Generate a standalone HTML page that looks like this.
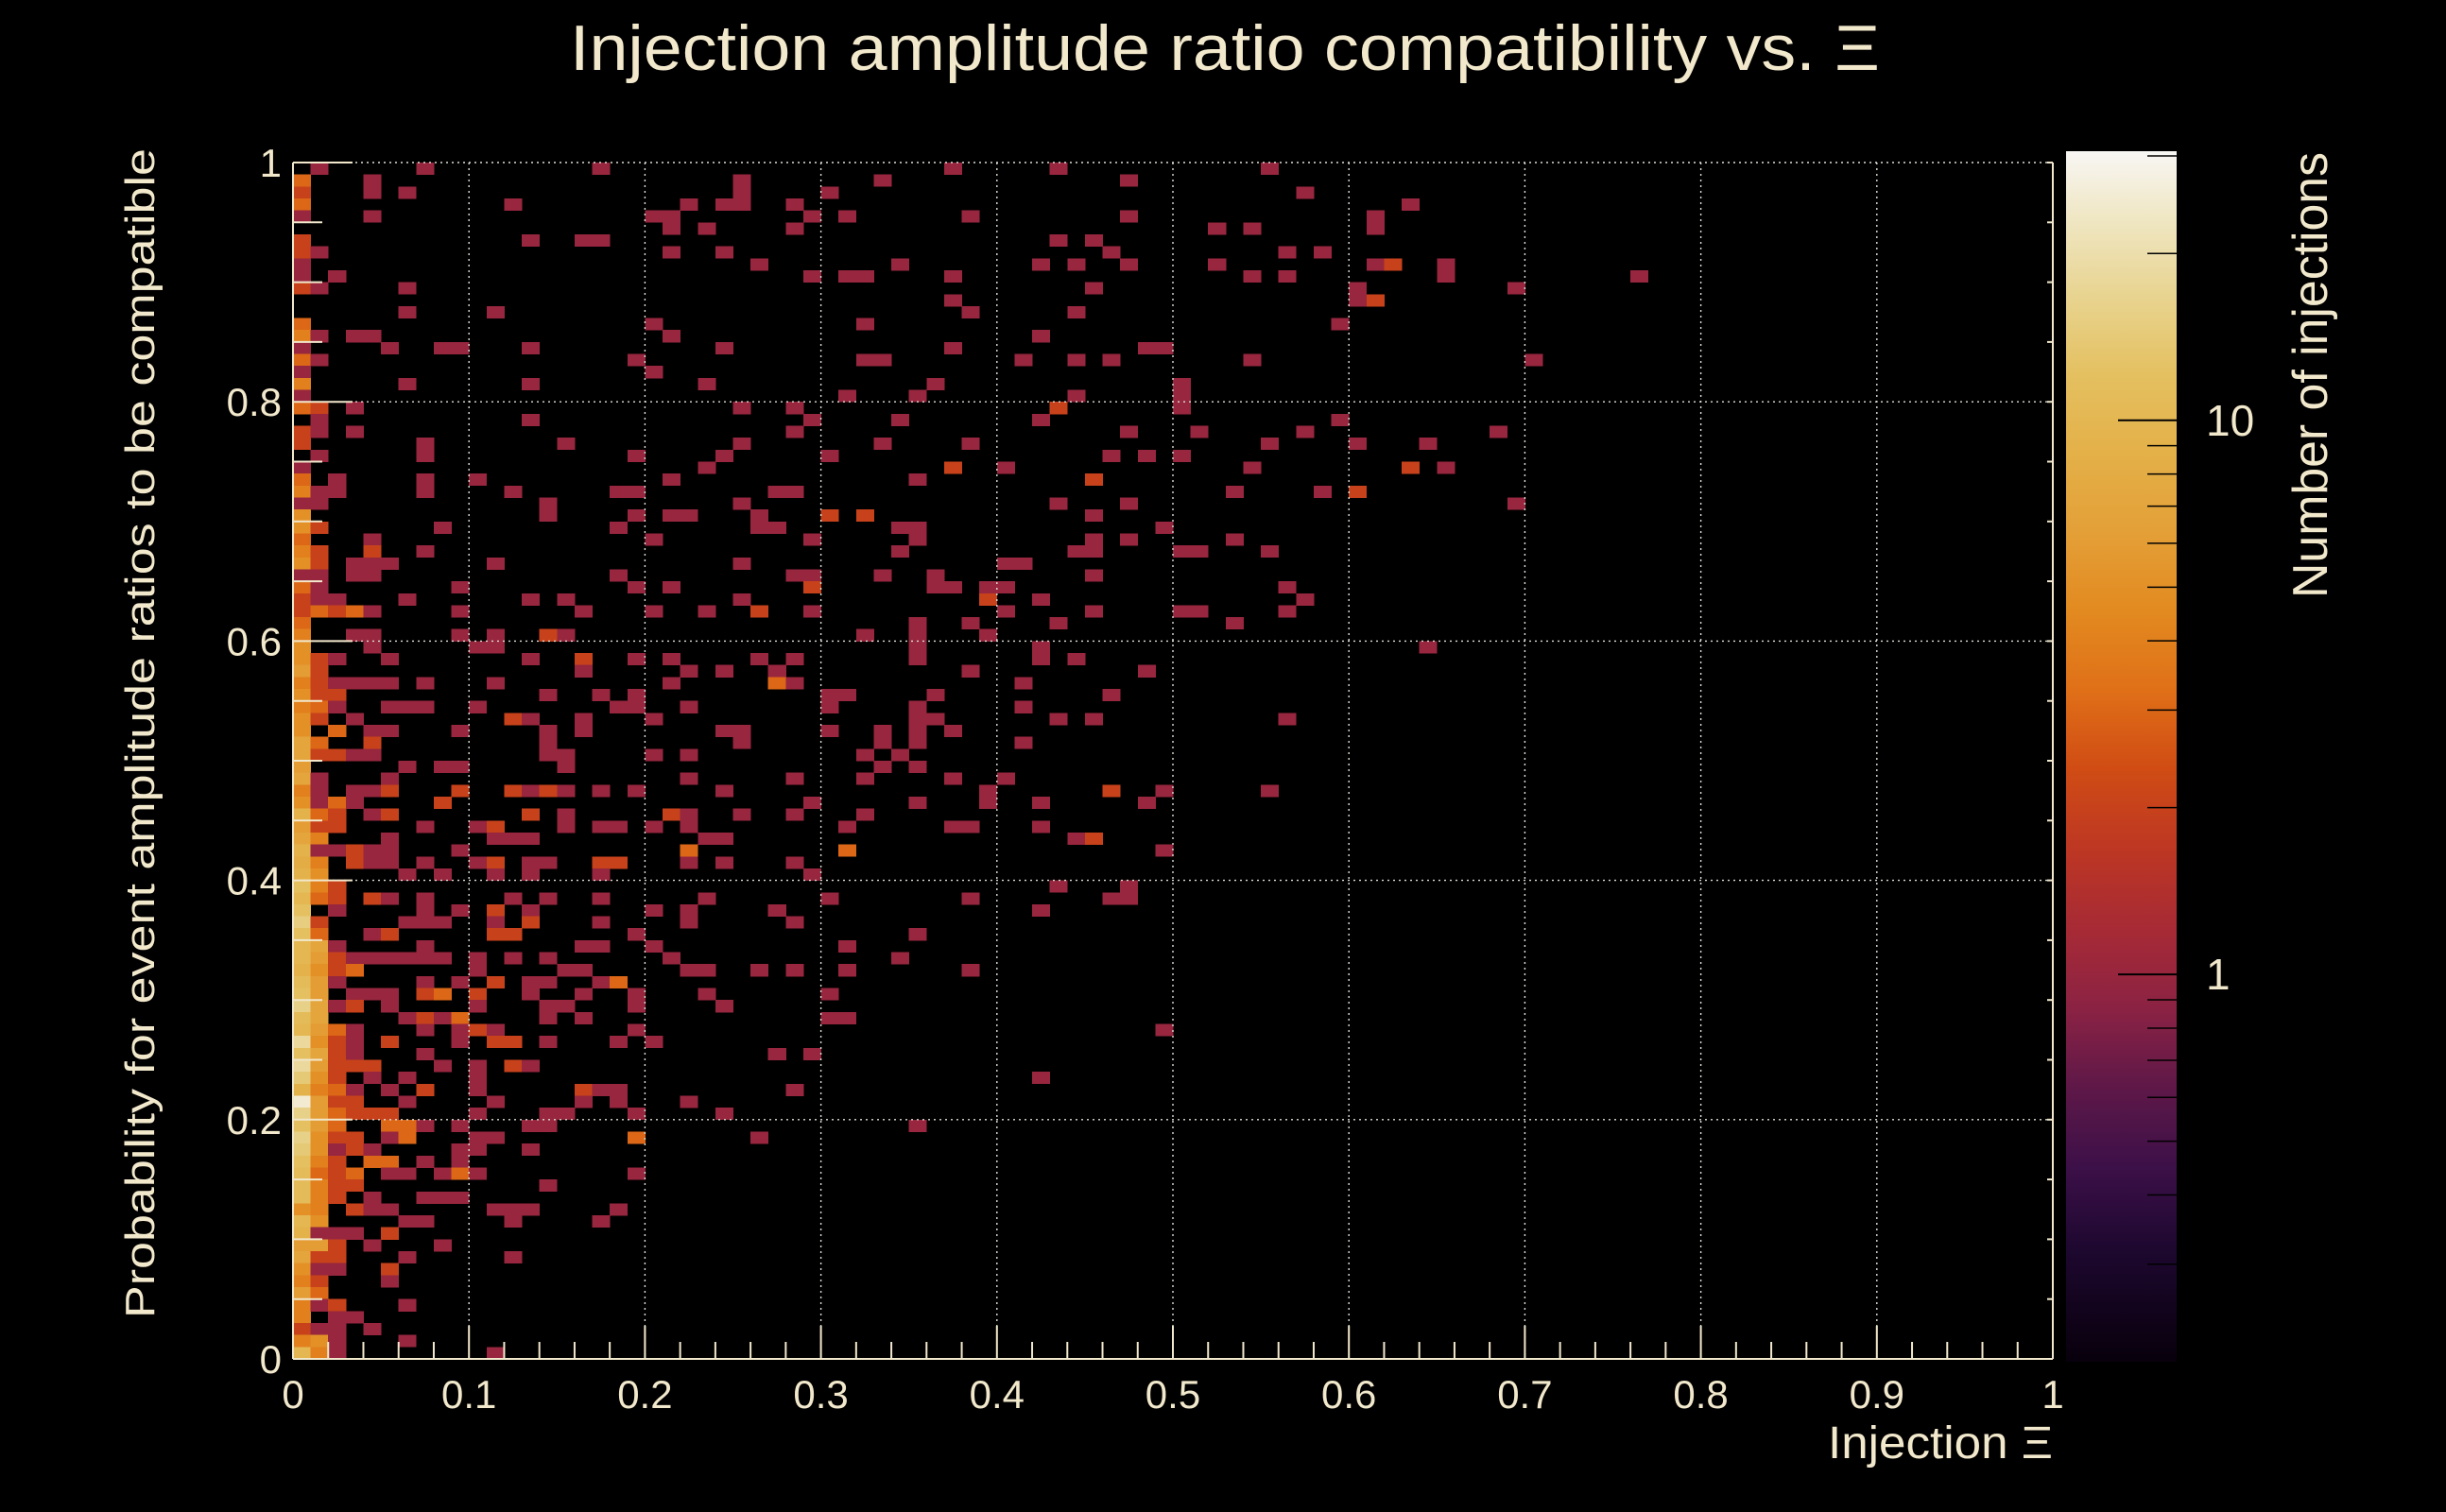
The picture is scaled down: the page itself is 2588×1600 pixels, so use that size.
<!DOCTYPE html>
<html><head><meta charset="utf-8"><style>
html,body{margin:0;padding:0;background:#000;}
svg{display:block;}
text{font-family:"Liberation Sans",sans-serif;fill:#f2e8cc;}
</style></head><body>
<svg id="chart" xmlns="http://www.w3.org/2000/svg" width="2588" height="1600" viewBox="0 0 2588 1600">
<rect x="0" y="0" width="2588" height="1600" fill="#000"/>
<text x="1296" y="74" font-size="68" text-anchor="middle" textLength="1386" lengthAdjust="spacingAndGlyphs">Injection amplitude ratio compatibility vs. Ξ</text>
<text transform="translate(163,776) rotate(-90)" font-size="44" text-anchor="middle" textLength="1238" lengthAdjust="spacingAndGlyphs">Probability for event amplitude ratios to be compatible</text>
<text x="2172" y="1543" font-size="48" text-anchor="end" textLength="238" lengthAdjust="spacingAndGlyphs">Injection Ξ</text>
<text transform="translate(2462,397) rotate(-90)" font-size="52" text-anchor="middle" textLength="472" lengthAdjust="spacingAndGlyphs">Number of injections</text>
<g id="cells"></g>
<g id="grid"></g>
<g id="axes"></g>
<g id="cbar"></g>
</svg>
<script>
// ---- data (100 x 100 bins; rows counted from the top, row 0 = y bin 0.99-1.00) ----
const col0Counts = [0,3,2,3,1,0,2,2,1,1,2,0,0,3,4,1,3,1,4,1,3,0,2,2,0,1,3,4,1,5,5,3,4,5,1,3,2,2,3,4,5,5,6,4,5,4,5,5,7,7,6,7,4,5,9,6,7,9,8,9,12,10,12,15,12,10,10,9,11,12,16,11,10,18,12,18,14,9,25,16,12,16,14,12,11,11,11,5,10,9,6,7,5,4,6,4,4,2,4,10];
const col1Counts = [1,0,0,0,0,0,0,1,0,0,1,0,0,0,1,0,1,0,0,0,2,1,1,0,1,0,0,1,1,0,2,0,2,2,1,1,1,3,0,0,0,2,2,2,2,3,2,0,3,2,0,1,1,1,3,2,4,1,4,5,4,3,0,2,3,7,6,5,6,6,7,7,6,5,7,6,5,4,6,6,6,5,5,4,3,4,4,4,5,1,6,2,1,2,3,1,0,1,5,4];
const col2Counts = [0,0,0,0,0,0,0,0,0,1,0,0,0,0,0,0,0,0,0,0,0,0,0,0,0,0,1,1,0,0,0,0,0,0,0,0,1,2,0,0,0,1,0,1,2,1,0,3,0,2,0,0,0,3,2,2,0,1,0,0,2,2,1,0,0,1,2,2,1,0,1,0,3,2,2,2,2,3,2,3,3,2,1,2,2,2,2,0,0,1,2,2,1,0,0,2,1,1,1,1];
const scatterRows = [0,1,2,3,4,5,6,7,8,9,10,11,12,13,14,15,16,17,18,19,20,21,22,23,24,25,26,27,28,29,30,31,32,33,34,35,36,37,38,39,40,41,42,43,44,45,46,47,48,49,50,51,52,53,54,55,56,57,58,59,60,61,62,63,64,65,66,67,68,69,70,71,72,73,74,75,76,77,78,79,80,81,82,83,84,85,86,87,88,89,90,91,92,93,95,96,97,98,99];
const scatterCols = [
[7,17,37,43,55],[4,25,33,47],[4,6,25,30,57],[12,22,24,25,28,63],[4,20,21,29,31,38,47,61],
[21,23,28,52,54,61],[13,16,17,43,45],[21,24,46,56,58],[26,34,42,44,47,52,61,62,65],[29,31,32,37,54,56,65,76],
[6,45,60,69],[37,60,61],[6,11,38,44],[20,32,59],[3,4,21,42],
[5,8,9,13,24,37,48,49],[19,32,33,41,44,46,54,70],[20],[6,13,23,36,50],[31,35,44,50],
[3,25,28,43,50],[13,29,34,42,59],[3,28,47,51,57,68],[7,15,25,33,38,55,60,64],[7,19,24,30,46,48,50],
[23,37,40,54,63,65],[7,10,21,35,45],[7,12,18,19,27,28,53,58,60],[14,25,43,47,69],[14,19,21,22,26,30,32,45],
[8,18,26,27,34,35,49],[4,20,29,35,45,47,53],[4,7,34,44,45,50,51,55],[3,4,5,11,25,40,41],[3,4,18,28,29,33,36,45],
[9,19,21,29,36,37,39,40,56],[6,13,15,25,39,42,57],[3,4,9,16,20,23,26,29,40,45,50,51,56],[35,38,43,53],[3,4,9,11,14,15,32,35,39],
[4,10,11,35,42,64],[5,13,16,19,21,26,28,35,42,44],[16,22,24,27,38,48],[3,4,5,7,11,21,27,28,41],[14,17,19,30,31,36,46],
[5,6,7,10,18,19,22,30,35,41],[3,12,13,16,20,35,36,43,45,56],[4,5,9,14,16,24,25,30,33,35,37],[4,14,25,33,35,41],[3,4,14,15,20,22,32,34],
[6,8,9,15,33,35],[5,22,28,32,37,40],[3,4,5,9,12,13,14,15,17,19,24,39,46,49,55],[3,8,29,35,39,42,48],[4,5,13,15,21,22,25,28,32],
[7,10,11,15,17,18,20,22,31,37,38,42],[5,11,12,13,23,24,44,45],[3,4,5,9,22,31,49],[3,4,5,7,10,11,13,14,17,18,22,24,28],[6,8,11,13,17,29],
[43,47],[4,5,7,12,14,17,23,30,38,46,47],[7,9,11,13,20,22,27,42],[6,7,8,11,13,17,22,28],[4,5,11,12,19,35],
[7,16,17,20,31],[3,4,5,6,7,8,10,12,14,21,34],[3,10,15,16,22,23,26,28,31,38],[7,9,11,13,14,17,18],[3,4,5,7,8,10,13,16,19,23,30],
[3,5,10,14,15,19,24],[6,7,8,9,14,16,30,31],[3,7,9,10,11,19,49],[3,5,9,11,12,14,18,20],[3,7,27,29],
[3,4,8,10,12,13],[4,6,10,42],[3,5,7,10,16,17,18,28],[3,6,11,16,18,22],[3,4,5,10,14,15,19,24],
[5,6,7,9,13,14,35],[3,5,6,10,11,19,26],[3,4,9,10,13],[4,5,7,9],[3,5,6,8,9,10,19],
[3,14],[4,7,8,9],[3,4,5,11,12,13,18],[6,7,12,17],[3,5],
[4,8],[6,12],[5],[5],[6],[3],[4],[6],[11]];
const scatterCounts = [
[1,1,1,1,1],[1,1,1,1],[1,1,1,1,1],[1,1,1,1,1,1],[1,1,1,1,1,1,1,1],
[1,1,1,1,1,1],[1,1,1,1,1],[1,1,1,1,1],[1,1,1,1,1,1,1,2,1],[1,1,1,1,1,1,1,1],
[1,1,1,1],[1,1,2],[1,1,1,1],[1,1,1],[1,1,1,1],
[1,1,1,1,1,1,1,1],[1,1,1,1,1,1,1,1],[1],[1,1,1,1,1],[1,1,1,1],
[1,1,1,2,1],[1,1,1,1,1],[1,1,1,1,1,1],[1,1,1,1,1,1,1,1],[1,1,1,1,1,1,1],
[1,2,1,1,2,1],[1,1,1,1,2],[1,1,1,1,1,1,1,1,2],[1,1,1,1,1],[1,1,1,1,1,2,2,1],
[1,1,1,1,1,1,1],[1,1,1,1,1,1,1],[2,1,1,1,1,1,1,1],[1,1,1,1,1,1,1],[1,1,1,1,1,1,1,1],
[1,1,1,2,1,1,1,1,1],[1,1,1,1,2,1,1],[3,1,1,1,1,1,2,1,1,1,1,1,1],[1,1,1,1],[1,1,1,1,2,1,1,1,1],
[1,1,1,1,1,1],[1,1,2,1,1,1,1,1,1,1],[1,1,1,1,1,1],[1,1,1,1,1,1,3,1,1],[1,1,1,1,1,1,1],
[1,1,1,1,1,1,1,1,1,1],[1,2,1,1,1,1,1,1,1,1],[1,1,1,1,1,1,1,1,1,1,1],[2,1,1,1,1,1],[1,1,1,1,1,1,1,1],
[1,1,1,1,1,1],[1,1,1,1,1,1],[1,1,2,2,2,1,2,1,1,1,1,1,2,1,1],[1,2,1,1,1,1,1],[1,2,2,1,2,1,1,1,1],
[1,1,2,1,1,1,1,1,1,1,1,1],[1,1,1,1,1,1,1,2],[2,1,1,1,3,3,1],[2,1,1,1,1,2,1,1,2,2,1,1,1],[1,1,1,1,1,1],
[1,1],[2,1,1,1,1,1,1,1,1,1,1],[1,1,2,1,1,1,1,1],[1,1,1,1,2,1,1,1],[1,2,2,2,1,1],
[1,1,1,1,1],[1,1,1,1,1,1,1,1,1,1,1],[3,1,1,1,1,1,1,1,1,1],[1,1,2,1,1,1,3],[1,1,1,2,3,2,1,1,1,1,1],
[2,1,1,1,1,1,1],[1,2,1,3,1,1,1,1],[1,1,1,2,1,1,1],[1,2,1,2,2,1,1,1],[1,1,1,1],
[2,2,1,1,2,1],[1,1,1,1],[1,1,2,1,2,1,1,1],[2,1,1,1,1,1],[2,2,2,1,1,1,1,1],
[3,3,1,1,1,1,1],[2,1,3,1,1,3,1],[2,1,1,1,1],[3,3,1,1],[3,1,1,1,3,1,1],
[2,1],[1,1,1,1],[2,1,1,1,1,1,1],[1,1,1,1],[1,2],
[1,1],[1,1],[2],[1],[1],[1],[1],[1],[1]];
const xTickLabels = ["0","0.1","0.2","0.3","0.4","0.5","0.6","0.7","0.8","0.9","1"];
const yTickLabels = ["0","0.2","0.4","0.6","0.8","1"];
const zTickLabels = ["1","10"];

// ---- geometry ----
const NS = "http://www.w3.org/2000/svg";
const PX0 = 310, PX1 = 2172, PY0 = 172, PY1 = 1438, NB = 100;
const CB = {x0: 2186, x1: 2303, y0: 160, y1: 1441, zmin: 0.2, zmax: 30.6};
function xScale(v){ return PX0 + (PX1 - PX0) * v; }
function yScale(v){ return PY1 - (PY1 - PY0) * v; }
function zFrac(c){ return (Math.log10(c) - Math.log10(CB.zmin)) / (Math.log10(CB.zmax) - Math.log10(CB.zmin)); }
function zScale(c){ return CB.y1 - (CB.y1 - CB.y0) * zFrac(c); }
const stops = [[0,"#08000c"],[0.095,"#1e0830"],[0.16,"#3c1048"],[0.226,"#5e1848"],[0.29,"#8a2244"],[0.355,"#a62a36"],[0.42,"#bc3624"],[0.49,"#d04c14"],[0.555,"#e07018"],[0.62,"#e28a20"],[0.687,"#e4a038"],[0.75,"#e4b048"],[0.815,"#e4c060"],[0.88,"#e8d490"],[0.95,"#f0e8c8"],[1,"#f8f6f4"]];
function hex(h){ return [parseInt(h.substr(1,2),16),parseInt(h.substr(3,2),16),parseInt(h.substr(5,2),16)]; }
function colorAt(t){
  t = Math.max(0, Math.min(1, t));
  for (let i = 1; i < stops.length; i++) {
    if (t <= stops[i][0]) {
      const a = stops[i-1], b = stops[i], f = (t - a[0]) / (b[0] - a[0]);
      const ca = hex(a[1]), cb = hex(b[1]);
      return "rgb(" + ca.map((v,k)=>Math.round(v + (cb[k]-v)*f)).join(",") + ")";
    }
  }
  return stops[stops.length-1][1];
}
function mk(tag, attrs, parent){ const e = document.createElementNS(NS, tag); for (const k in attrs) e.setAttribute(k, attrs[k]); parent.appendChild(e); return e; }

// ---- cells ----
const gCells = document.getElementById("cells");
function drawCell(col, rowTop, count){
  if (!count) return;
  const yb = NB - 1 - rowTop;
  const x0 = xScale(col / NB), x1 = xScale((col + 1) / NB);
  const y1 = yScale(yb / NB), y0 = yScale((yb + 1) / NB);
  const r = mk("rect", {x: x0.toFixed(2), y: y0.toFixed(2), width: (x1 - x0 + 0.4).toFixed(2), height: (y1 - y0 + 0.4).toFixed(2), fill: colorAt(zFrac(count)), "shape-rendering": "crispEdges"}, gCells);
  
  
}
[col0Counts, col1Counts, col2Counts].forEach((arr, ci) => arr.forEach((c, r) => drawCell(ci, r, c)));
scatterRows.forEach((r, i) => scatterCols[i].forEach((c, j) => drawCell(c, r, scatterCounts[i][j])));

// ---- grid ----
const gGrid = document.getElementById("grid");
xTickLabels.forEach((l, i) => {
  const v = i / (xTickLabels.length - 1);
  if (i === 0) return;
  const ln = mk("line", {x1: xScale(v), x2: xScale(v), y1: PY0, y2: PY1, stroke: "#e0e0d8", "stroke-width": 1.4, "stroke-dasharray": "2,4"}, gGrid);
  
  
});
yTickLabels.forEach((l, i) => {
  const v = i / (yTickLabels.length - 1);
  if (i === 0) return;
  const ln = mk("line", {x1: PX0, x2: PX1, y1: yScale(v), y2: yScale(v), stroke: "#e0e0d8", "stroke-width": 1.4, "stroke-dasharray": "2,4"}, gGrid);
  
  
});

// ---- axes ----
const gAx = document.getElementById("axes");
const axStyle = {stroke: "#f2e8cc", "stroke-width": 2};
let a;
a = mk("line", Object.assign({x1: PX0, x2: PX1, y1: PY1, y2: PY1}, axStyle), gAx);


a = mk("line", Object.assign({x1: PX0, x2: PX0, y1: PY0, y2: PY1}, axStyle), gAx);


a = mk("line", Object.assign({x1: PX1, x2: PX1, y1: PY0, y2: PY1}, axStyle), gAx);


for (let k = 0; k <= 50; k++) {
  const v = k / 50, major = k % 5 === 0, len = major ? 35 : 18;
  const t = mk("line", Object.assign({x1: xScale(v), x2: xScale(v), y1: PY1, y2: PY1 - len}, axStyle), gAx);
  
  
}
for (let k = 0; k <= 20; k++) {
  const v = k / 20, major = k % 4 === 0, len = major ? 63 : 31;
  const t = mk("line", Object.assign({x1: PX0, x2: PX0 + len, y1: yScale(v), y2: yScale(v)}, axStyle), gAx);
  
  
  const t2 = mk("line", Object.assign({x1: PX1, x2: PX1 - 6, y1: yScale(v), y2: yScale(v)}, axStyle), gAx);
  
  
}
xTickLabels.forEach((l, i) => {
  const v = i / (xTickLabels.length - 1);
  const tx = mk("text", {x: xScale(v), y: 1490, "font-size": 42, "text-anchor": "middle"}, gAx);
  tx.textContent = l;
  
  
});
yTickLabels.forEach((l, i) => {
  const v = i / (yTickLabels.length - 1);
  const tx = mk("text", {x: 298, y: yScale(v) + 15, "font-size": 42, "text-anchor": "end"}, gAx);
  tx.textContent = l;
  
  
});

// ---- colorbar ----
const gCb = document.getElementById("cbar");
const defs = mk("defs", {}, gCb);
const grad = mk("linearGradient", {id: "cbgrad", x1: 0, y1: 1, x2: 0, y2: 0}, defs);
stops.forEach(s => mk("stop", {offset: s[0], "stop-color": s[1]}, grad));
const cbr = mk("rect", {x: CB.x0, y: CB.y0, width: CB.x1 - CB.x0, height: CB.y1 - CB.y0, fill: "url(#cbgrad)"}, gCb);


const zMinor = [0.3,0.4,0.5,0.6,0.7,0.8,0.9,2,3,4,5,6,7,8,9,20,30];
zMinor.forEach(v => {
  const t = mk("line", {x1: CB.x1, x2: CB.x1 - 31, y1: zScale(v), y2: zScale(v), stroke: "#000", "stroke-width": 1.5}, gCb);
  
  
});
zTickLabels.forEach(l => {
  const v = parseFloat(l);
  const t = mk("line", {x1: CB.x1, x2: CB.x1 - 62, y1: zScale(v), y2: zScale(v), stroke: "#000", "stroke-width": 2}, gCb);
  
  
  const tx = mk("text", {x: 2334, y: zScale(v) + 16, "font-size": 46}, gCb);
  tx.textContent = l;
  
  
});
</script>
</body></html>
